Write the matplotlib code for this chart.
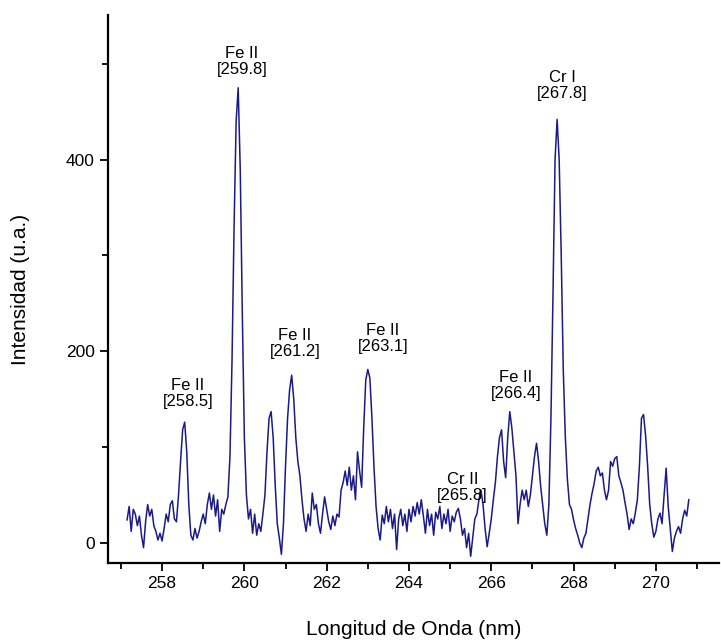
import matplotlib
matplotlib.use("Agg")
import matplotlib.pyplot as plt
from matplotlib.ticker import MultipleLocator

plt.rcParams['font.family'] = ['Liberation Sans', 'DejaVu Sans']

wavelength = [
    257.15, 257.20, 257.25, 257.30, 257.35, 257.40, 257.45, 257.50, 257.55, 257.60,
    257.65, 257.70, 257.75, 257.80, 257.85, 257.90, 257.95, 258.00, 258.05, 258.10,
    258.15, 258.20, 258.25, 258.30, 258.35, 258.40, 258.45, 258.50, 258.55, 258.60,
    258.65, 258.70, 258.75, 258.80, 258.85, 258.90, 258.95, 259.00, 259.05, 259.10,
    259.15, 259.20, 259.25, 259.30, 259.35, 259.40, 259.45, 259.50, 259.55, 259.60,
    259.65, 259.70, 259.75, 259.80, 259.85, 259.90, 259.95, 260.00, 260.05, 260.10,
    260.15, 260.20, 260.25, 260.30, 260.35, 260.40, 260.45, 260.50, 260.55, 260.60,
    260.65, 260.70, 260.75, 260.80, 260.85, 260.90, 260.95, 261.00, 261.05, 261.10,
    261.15, 261.20, 261.25, 261.30, 261.35, 261.40, 261.45, 261.50, 261.55, 261.60,
    261.65, 261.70, 261.75, 261.80, 261.85, 261.90, 261.95, 262.00, 262.05, 262.10,
    262.15, 262.20, 262.25, 262.30, 262.35, 262.40, 262.45, 262.50, 262.55, 262.60,
    262.65, 262.70, 262.75, 262.80, 262.85, 262.90, 262.95, 263.00, 263.05, 263.10,
    263.15, 263.20, 263.25, 263.30, 263.35, 263.40, 263.45, 263.50, 263.55, 263.60,
    263.65, 263.70, 263.75, 263.80, 263.85, 263.90, 263.95, 264.00, 264.05, 264.10,
    264.15, 264.20, 264.25, 264.30, 264.35, 264.40, 264.45, 264.50, 264.55, 264.60,
    264.65, 264.70, 264.75, 264.80, 264.85, 264.90, 264.95, 265.00, 265.05, 265.10,
    265.15, 265.20, 265.25, 265.30, 265.35, 265.40, 265.45, 265.50, 265.55, 265.60,
    265.65, 265.70, 265.75, 265.80, 265.85, 265.90, 265.95, 266.00, 266.05, 266.10,
    266.15, 266.20, 266.25, 266.30, 266.35, 266.40, 266.45, 266.50, 266.55, 266.60,
    266.65, 266.70, 266.75, 266.80, 266.85, 266.90, 266.95, 267.00, 267.05, 267.10,
    267.15, 267.20, 267.25, 267.30, 267.35, 267.40, 267.45, 267.50, 267.55, 267.60,
    267.65, 267.70, 267.75, 267.80, 267.85, 267.90, 267.95, 268.00, 268.05, 268.10,
    268.15, 268.20, 268.25, 268.30, 268.35, 268.40, 268.45, 268.50, 268.55, 268.60,
    268.65, 268.70, 268.75, 268.80, 268.85, 268.90, 268.95, 269.00, 269.05, 269.10,
    269.15, 269.20, 269.25, 269.30, 269.35, 269.40, 269.45, 269.50, 269.55, 269.60,
    269.65, 269.70, 269.75, 269.80, 269.85, 269.90, 269.95, 270.00, 270.05, 270.10,
    270.15, 270.20, 270.25, 270.30, 270.35, 270.40, 270.45, 270.50, 270.55, 270.60,
    270.65, 270.70, 270.75, 270.80,
]

intensity = [
    24, 38, 12, 35, 30, 18, 28, 8, -5, 22,
    40, 28, 35, 18, 12, 3, 10, 2, 15, 30,
    22, 40, 44, 25, 22, 50, 85, 118, 126, 95,
    40, 8, 3, 15, 5, 12, 22, 30, 20, 40,
    52, 35, 50, 28, 45, 12, 35, 30, 40, 48,
    90, 190, 330, 440, 475, 390, 240, 110, 50, 25,
    35, 10, 30, 8, 20, 12, 30, 50, 95, 130,
    137, 110, 60, 20, 5, -12, 20, 80, 130, 160,
    175, 150, 110, 85, 70, 45, 25, 12, 30, 18,
    52, 35, 40, 20, 10, 30, 48, 35, 22, 14,
    28, 18, 30, 27, 55, 63, 75, 60, 79, 55,
    70, 45, 95, 75, 58, 120, 170, 181, 172, 130,
    79, 38, 15, 3, 29, 20, 38, 22, 35, 15,
    30, -7, 25, 35, 18, 30, 12, 35, 22, 38,
    28, 42, 30, 45, 28, 10, 35, 18, 30, 8,
    32, 25, 38, 15, 30, 20, 35, 12, 28, 22,
    32, 36, 25, 8, 15, -5, 10, -14, 5, 25,
    30, 45, 55, 40, 15, -4, 10, 25, 45, 63,
    90, 110, 118, 85, 68, 110, 137, 120, 95, 70,
    20, 40, 55, 45, 55, 38, 50, 70, 90, 104,
    85, 59, 40, 20, 8, 40, 130, 260, 400, 442,
    400, 300, 180, 110, 66, 40, 35, 24, 15, 8,
    0, -5, 5, 10, 25, 40, 52, 62, 75, 79,
    70, 73, 55, 45, 55, 85, 80, 88, 90, 70,
    63, 55, 42, 30, 14, 25, 20, 31, 45, 80,
    130, 134, 112, 80, 40, 20, 6, 12, 25, 31,
    20, 50, 78, 38, 15, -9, 5, 12, 17, 10,
    25, 34, 28, 45,
]

label_text = ["Fe II\n[258.5]", "Fe II\n[259.8]", "Fe II\n[261.2]", "Fe II\n[263.1]",
              "Cr II\n[265.8]", "Fe II\n[266.4]", "Cr I\n[267.8]"]
label_x = [258.63, 259.94, 261.23, 263.37, 265.30, 266.60, 267.72]
label_y = [156, 502, 208, 213, 58, 164, 477]

fig = plt.figure(figsize=(7.21, 6.41), dpi=100)
ax = fig.add_axes([0.150, 0.1217, 0.847, 0.855])
ax.plot(wavelength, intensity, color='#1a1a88', linewidth=1.1)

for t, x, y in zip(label_text, label_x, label_y):
    ax.text(x, y, t, ha='center', va='center', fontsize=12, linespacing=1.1)

ax.set_xlim(256.69, 271.53)
ax.set_ylim(-21, 551)
ax.xaxis.set_major_locator(MultipleLocator(2))
ax.xaxis.set_minor_locator(MultipleLocator(1))
ax.yaxis.set_major_locator(MultipleLocator(200))
ax.yaxis.set_minor_locator(MultipleLocator(100))
ax.tick_params(which='both', direction='out', width=1.3, labelsize=12.5)
ax.tick_params(which='major', length=6)
ax.tick_params(which='minor', length=4)
for s in ['top', 'right']:
    ax.spines[s].set_visible(False)
for s in ['left', 'bottom']:
    ax.spines[s].set_linewidth(1.6)

ax.set_xlabel('Longitud de Onda (nm)', fontsize=15, labelpad=21)
ax.set_ylabel('Intensidad (u.a.)', fontsize=15, labelpad=26)

fig.savefig('out.png', dpi=100)
